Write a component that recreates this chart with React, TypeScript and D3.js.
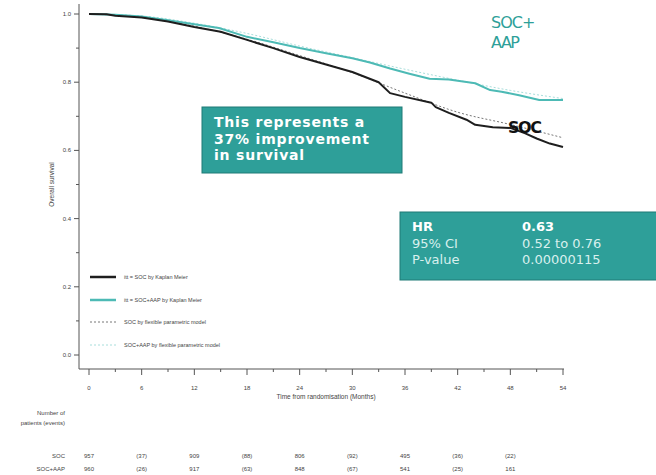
import React from "react";
import * as d3 from "d3";

const socMonths = [0, 2, 3, 6, 9, 12, 15, 18, 21, 24, 27, 30, 33, 34.3, 36, 39, 39.5, 41, 43, 44, 46, 48, 49.7, 51, 52.5, 54];
const socSurv = [1.0, 0.999, 0.995, 0.99, 0.978, 0.962, 0.948, 0.924, 0.9, 0.874, 0.852, 0.83, 0.8, 0.768, 0.757, 0.74, 0.727, 0.71, 0.69, 0.675, 0.668, 0.666, 0.65, 0.635, 0.62, 0.61];
const aapMonths = [0, 3, 6, 9, 12, 14.8, 18, 21, 24, 27, 30, 32, 34.3, 36.5, 38.8, 41, 44, 45.7, 47, 49, 51.3, 54];
const aapSurv = [1.0, 0.998, 0.993, 0.982, 0.97, 0.959, 0.933, 0.917, 0.9, 0.885, 0.87, 0.858, 0.84, 0.825, 0.81, 0.808, 0.797, 0.777, 0.772, 0.762, 0.748, 0.748];
const fpMonths = [0, 6, 12, 18, 24, 30, 36, 42, 48, 54];
const socFp = [1.0, 0.99, 0.964, 0.926, 0.878, 0.828, 0.768, 0.712, 0.676, 0.637];
const aapFp = [1.0, 0.994, 0.973, 0.943, 0.906, 0.872, 0.838, 0.806, 0.776, 0.752];

const yTicks = [0, 0.2, 0.4, 0.6, 0.8, 1.0];
const yMinor = [0.1, 0.3, 0.5, 0.7, 0.9];
const xTicks = [0, 6, 12, 18, 24, 30, 36, 42, 48, 54];
const xMinor = [3, 9, 15, 21, 27, 33, 39, 45, 51];

const riskMonths = [0, 6, 12, 18, 24, 30, 36, 42, 48];
const riskSoc = ["957", "(37)", "909", "(88)", "806", "(92)", "495", "(36)", "(22)"];
const riskAap = ["960", "(26)", "917", "(63)", "848", "(67)", "541", "(25)", "161"];

const legendLabels = [
  "itt = SOC by Kaplan Meier",
  "itt = SOC+AAP by Kaplan Meier",
  "SOC by flexible parametric model",
  "SOC+AAP by flexible parametric model",
];

const hrLabels = ["HR", "95% CI", "P-value"];
const hrValues = ["0.63", "0.52 to 0.76", "0.00000115"];

const boxLines = ["This represents a", "37% improvement", "in survival"];

const TEAL = "#2e9f99";
const LINE_TEAL = "#4dbab5";
const GREY = "#444";

export default function App() {
  const x = d3.scaleLinear().domain([0, 54]).range([89, 563]);
  const y = d3.scaleLinear().domain([0, 1]).range([355, 14]);
  const lin = d3
    .line<[number, number]>()
    .x((d) => x(d[0]))
    .y((d) => y(d[1]))
    .curve(d3.curveLinear);
  const smooth = d3
    .line<[number, number]>()
    .x((d) => x(d[0]))
    .y((d) => y(d[1]))
    .curve(d3.curveMonotoneX);
  const zip = (a: number[], b: number[]) => a.map((v, i) => [v, b[i]] as [number, number]);
  const font = "'Liberation Sans', Arial, sans-serif";
  const legendY = [277, 300, 322, 345];

  return (
    <svg
      width={656}
      height={475}
      style={{ position: "absolute", left: 0, top: 0, background: "#fff" }}
      fontFamily={font}
    >
      {/* axes */}
      <line x1={79} x2={79} y1={4} y2={369} stroke="#555" strokeWidth={1} />
      <line x1={79} x2={564} y1={369} y2={369} stroke="#555" strokeWidth={1} />
      {yTicks.map((t) => (
        <g key={"yt" + t}>
          <line x1={74} x2={79} y1={y(t)} y2={y(t)} stroke="#555" />
          <text x={71} y={y(t) + 2} fontSize={6} textAnchor="end" fill={GREY}>
            {t.toFixed(1)}
          </text>
        </g>
      ))}
      {yMinor.map((t) => (
        <line key={"ym" + t} x1={76} x2={79} y1={y(t)} y2={y(t)} stroke="#555" />
      ))}
      {xTicks.map((t) => (
        <g key={"xt" + t}>
          <line x1={x(t)} x2={x(t)} y1={369} y2={375} stroke="#555" />
          <text x={x(t)} y={390} fontSize={6} textAnchor="middle" fill={GREY}>
            {t}
          </text>
        </g>
      ))}
      {xMinor.map((t) => (
        <line key={"xm" + t} x1={x(t)} x2={x(t)} y1={369} y2={372} stroke="#555" />
      ))}
      <text x={326} y={399} fontSize={6.5} textAnchor="middle" fill={GREY}>
        Time from randomisation (Months)
      </text>
      <text
        transform={`translate(54,${(y(0) + y(1)) / 2}) rotate(-90)`}
        fontSize={6.5}
        textAnchor="middle"
        fill={GREY}
      >
        Overall survival
      </text>

      {/* parametric models */}
      <path d={smooth(zip(fpMonths, aapFp)) || ""} fill="none" stroke="#a8dedb" strokeWidth={1} strokeDasharray="2,2" />
      <path d={smooth(zip(fpMonths, socFp)) || ""} fill="none" stroke="#777" strokeWidth={1} strokeDasharray="2,2" />
      {/* KM curves */}
      <path d={lin(zip(aapMonths, aapSurv)) || ""} fill="none" stroke={LINE_TEAL} strokeWidth={2} strokeLinejoin="round" />
      <path d={lin(zip(socMonths, socSurv)) || ""} fill="none" stroke="#1e1e1e" strokeWidth={2} strokeLinejoin="round" />

      {/* legend */}
      {legendLabels.map((l, i) => (
        <g key={l}>
          <line
            x1={90}
            x2={116}
            y1={legendY[i]}
            y2={legendY[i]}
            stroke={i === 0 ? "#1e1e1e" : i === 1 ? LINE_TEAL : i === 2 ? "#777" : "#a8dedb"}
            strokeWidth={i < 2 ? 2.5 : 1}
            strokeDasharray={i < 2 ? undefined : "2,2"}
          />
          <text x={124} y={legendY[i] + 2} fontSize={5.5} fill={GREY}>
            {l}
          </text>
        </g>
      ))}

      {/* annotations */}
      <text x={491} y={28} fontSize={16} fill={TEAL} fontFamily="'DejaVu Sans', sans-serif" letterSpacing={-1}>
        SOC+
      </text>
      <text x={491} y={48} fontSize={16} fill={TEAL} fontFamily="'DejaVu Sans', sans-serif" letterSpacing={-1.5}>
        AAP
      </text>
      <text x={508} y={133} fontSize={16} fill="#111" fontFamily="'DejaVu Sans', sans-serif" fontWeight="bold" letterSpacing={-1.5}>
        SOC
      </text>

      <rect x={202} y={107} width={200} height={66} fill={TEAL} stroke="#1f7b76" strokeWidth={1} />
      {boxLines.map((l, i) => (
        <text
          key={l}
          x={214}
          y={127 + i * 16.5}
          fontSize={14}
          fill="#fff"
          fontFamily="'DejaVu Sans', sans-serif"
          fontWeight="bold"
          letterSpacing={0.8}
        >
          {l}
        </text>
      ))}

      <rect x={400} y={212} width={262} height={68} fill={TEAL} stroke="#1f7b76" strokeWidth={1} />
      {hrLabels.map((l, i) => (
        <g key={l}>
          <text
            x={412}
            y={231 + i * 16.5}
            fontSize={13}
            fill={i === 0 ? "#fff" : "#d8f0ee"}
            fontFamily="'DejaVu Sans', sans-serif"
            fontWeight={i === 0 ? "bold" : "normal"}
          >
            {l}
          </text>
          <text
            x={522}
            y={231 + i * 16.5}
            fontSize={13}
            fill={i === 0 ? "#fff" : "#d8f0ee"}
            fontFamily="'DejaVu Sans', sans-serif"
            fontWeight={i === 0 ? "bold" : "normal"}
          >
            {hrValues[i]}
          </text>
        </g>
      ))}

      {/* risk table */}
      <text x={65} y={415} fontSize={6} textAnchor="end" fill={GREY}>
        Number of
      </text>
      <text x={65} y={425} fontSize={6} textAnchor="end" fill={GREY}>
        patients (events)
      </text>
      <text x={65} y={458} fontSize={6} textAnchor="end" fill={GREY}>
        SOC
      </text>
      <text x={65} y={471} fontSize={6} textAnchor="end" fill={GREY}>
        SOC+AAP
      </text>
      {riskMonths.map((m, i) => (
        <g key={"r" + m}>
          <text x={x(m)} y={458} fontSize={6} textAnchor="middle" fill={GREY}>
            {riskSoc[i]}
          </text>
          <text x={x(m)} y={471} fontSize={6} textAnchor="middle" fill={GREY}>
            {riskAap[i]}
          </text>
        </g>
      ))}
    </svg>
  );
}
